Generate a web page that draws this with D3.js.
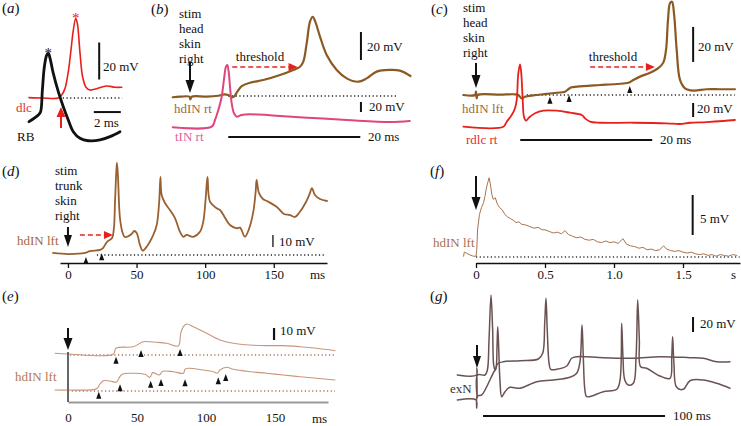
<!DOCTYPE html>
<html><head><meta charset="utf-8">
<script src="https://cdn.jsdelivr.net/npm/d3@7"></script>
<style>
body{margin:0;background:#fff}
svg text{font-family:"Liberation Serif","Times New Roman",serif;font-size:13px}
</style></head>
<body><svg id="c" width="741" height="426"></svg>
<script>
// ---------------- DATA ----------------
// (a) time ms, voltage mV
const aRB  = [[0,-12.8],[0.69,-9.2],[0.86,-7.4],[0.99,4.3],[1.14,17],[1.31,23.2],[1.43,24.2],[1.56,21.4],[1.8,13.3],[2.17,3.4],[2.54,-4.7],[2.91,-11.9],[3.28,-18.2],[3.78,-21.8],[4.39,-23.1],[5.26,-22.7],[6.0,-20.9],[6.74,-18.2]];
const aDlc = [[0,0.2],[1,0],[2.17,0],[2.42,1.6],[2.67,5.2],[2.91,14.2],[3.11,25.9],[3.28,36.6],[3.46,42.9],[3.58,40.3],[3.78,24.2],[3.97,11.5],[4.22,5.8],[4.52,4.3],[5.0,5],[5.74,6.5],[6.37,5.8],[6.87,5.8]];
// (b)
const bHdIN = [[-2.62,-0.9],[-1.52,-0.5],[-0.1,-0.5],[0.05,-2.4],[0.26,-0.5],[2.53,-0.5],[4.29,0.2],[5.2,1.2],[5.8,0.7],[6.32,-0.9],[6.67,-0.5],[7.17,3.1],[7.83,7.1],[9.09,9.5],[11.1,11.4],[13.64,15],[15.65,18.6],[16.67,20.9],[17.17,24.5],[17.68,37.6],[18.18,53.1],[18.59,56.6],[18.98,53.1],[19.7,42.4],[20.71,29.3],[22.23,18.6],[23.74,12.6],[25.5,10.2],[26.77,12.6],[28.29,17.4],[30.3,18.6],[31.8,18.1],[33.4,14.3]];
const bTIN = [[-2.62,-0.6],[3.29,0.6],[3.79,14],[4.29,34],[4.8,60.6],[5.2,100.6],[5.45,120.6],[5.65,124],[5.86,110.6],[6.06,80.6],[6.32,47.4],[6.67,27.4],[7.08,20.6],[7.83,24],[9.09,25.4],[13.64,22],[18.64,18],[23.79,14],[30.3,10],[33.3,12]];
// (c)
const cHdIN = [[-1.92,0],[-0.15,0],[0,1.9],[0.1,-1.9],[0.26,0],[3.64,0.2],[5.91,0.4],[6.41,0],[6.92,-1.9],[7.42,-1],[8.68,-0.2],[10.71,0.6],[12.23,1.3],[13.48,1.9],[13.98,3.3],[14.5,4.4],[16.26,5.1],[18.79,5.7],[21.32,6.3],[23.08,7],[23.83,8.6],[24.85,10.5],[26.36,12.7],[27.62,15.3],[28.38,18.5],[28.79,25.7],[29.09,42.9],[29.39,52.4],[29.7,53.3],[30,46.7],[30.41,25.7],[30.91,8.6],[31.67,3.8],[32.92,2.5],[34.95,3.3],[36.97,3.3],[39.24,3.3]];
const cRdlc = [[-1.92,0.4],[4.14,0.4],[4.65,7.6],[5.41,17.1],[5.91,26.7],[6.17,38.6],[6.41,76.7],[6.67,89.6],[6.86,76.7],[7.08,38.6],[7.27,14.7],[7.58,9],[8.08,13.9],[8.94,19.6],[10.2,23.3],[12.23,23.3],[14.24,20.4],[16.02,17.1],[16.52,12.4],[17.27,7.6],[18.79,6.1],[23.83,6.1],[28.89,5.3],[30.91,4.3],[32.42,6.1],[34.95,7.1],[37.47,8.6],[39.24,10]];
const cMarks = [[11.2,-1],[14.1,0],[23.3,5.1]];
// (d)
const dHdIN = [[-10.9,1.7],[0,0.8],[12.4,1.7],[16,3.3],[23.3,4.2],[25.5,5.8],[28.4,10.8],[32.1,14.2],[33.5,22.5],[34.3,44.2],[35.3,70.8],[35.7,76.7],[36.4,66.7],[37.9,30.8],[39.9,18.3],[41.5,15],[46.4,17.5],[48.3,20],[50.1,18.3],[52.5,8.3],[54.4,3.6],[57.4,6.9],[62.2,16.7],[64.7,25],[66.5,44.4],[67.4,65],[68.3,50],[70.7,43.3],[74.3,37.5],[78,30.8],[81.6,19.4],[84,15.2],[86.5,16.7],[91.3,15.2],[96.2,19.4],[98.6,27.7],[100.4,47.5],[101.7,65],[103.5,44.4],[108.4,38.9],[110.8,37.5],[118.1,25],[123,22.2],[125.4,22.8],[129,15.2],[132.1,22.2],[135.1,36.1],[136.8,52.8],[137.5,62.5],[139.2,51.7],[142.1,46.7],[145,45],[152.3,40],[157.4,34.2],[161.8,33.3],[165.5,31.7],[168.4,35],[173.5,44.2],[176.4,51.7],[177.8,55.8],[180,50],[183.7,46.7],[188.8,45]];
const dMarks = [[13.1,-1.7],[24.6,1.4]];
const dTicks = [0,50,100,150];
// (e)
const eUpper = [[-9.4,1.4],[0,0.8],[32.8,0.6],[34.8,5.6],[47.3,6.9],[52.2,9.8],[54.6,11.1],[64.3,10.6],[71.5,9.8],[79.9,7.5],[81.7,18.1],[83.6,23.6],[86,25.8],[90.8,23.6],[100.5,18.1],[110.1,12.5],[119.8,9.8],[131.9,8.3],[144,7.8],[156,7.8],[168.1,6.9],[180.2,5.6],[193.5,3.6]];
const eLower = [[-9.4,0.8],[0.2,0.8],[20.8,1.9],[22.7,5],[25.6,8.6],[30.4,8.3],[35.3,7.5],[37.2,11.4],[39.6,14.2],[47.3,14.8],[55.8,13.9],[59.4,11.4],[61.4,15.3],[66.2,13.3],[68.6,16.4],[76.3,16.1],[83.6,14.8],[84.8,18.1],[87.2,18.9],[98,17.5],[105.3,16.1],[108.2,14.8],[110.1,17.5],[115,19.8],[119.8,18.1],[131.9,16.1],[144,14.8],[156,13.3],[168.1,11.9],[180.2,10.6],[193.5,9.2]];
const eUpperMarks = [[34.8,-1.4],[52.9,4.2],[81.2,5]];
const eLowerMarks = [[22.3,-0.6],[37.7,5.6],[59.9,8.6],[67.4,10],[84.8,9.7],[108.9,11.4],[114.3,14.2]];
const eTicks = [0,50,100,150];
// (f) time s, voltage mV
const fHdIN = [[-0.09,0.1],[-0.085,0.6],[-0.07,0.5],[-0.05,0.3],[-0.02,0.1],[0,0.1],[0.005,0.8],[0.012,3.5],[0.025,5.3],[0.04,6.2],[0.055,6.8],[0.065,7.6],[0.075,8.6],[0.085,9.3],[0.095,9.9],[0.105,9.0],[0.115,7.8],[0.125,7.2],[0.14,7.4],[0.155,6.6],[0.17,6.2],[0.19,5.9],[0.21,5.3],[0.23,5.0],[0.25,4.8],[0.27,4.6],[0.29,4.3],[0.31,4.4],[0.33,4.1],[0.36,4.0],[0.39,3.8],[0.42,3.6],[0.45,3.7],[0.48,3.4],[0.5,3.4],[0.53,3.2],[0.56,3.0],[0.59,3.1],[0.62,2.9],[0.645,3.3],[0.67,2.8],[0.7,2.6],[0.73,2.4],[0.76,2.5],[0.79,2.2],[0.82,2.1],[0.85,2.2],[0.88,1.9],[0.91,1.8],[0.94,2.0],[0.97,1.8],[1.0,1.9],[1.03,1.7],[1.065,2.3],[1.09,1.6],[1.12,1.4],[1.15,1.3],[1.18,1.1],[1.21,1.2],[1.24,0.9],[1.27,1.0],[1.3,0.8],[1.33,0.9],[1.36,1.4],[1.38,1.0],[1.41,0.8],[1.44,0.7],[1.47,0.8],[1.5,0.6],[1.53,0.5],[1.56,0.6],[1.59,0.4],[1.62,0.3],[1.65,0.4],[1.68,0.2],[1.71,0.3],[1.74,0.1],[1.77,0.3],[1.8,0.2],[1.83,0.1],[1.86,0.3],[1.89,0.2]];
const fTicks = [0,0.5,1.0,1.5];
// (g) time ms, voltage mV
const gUpper = [[-10.8,0],[-0.3,0],[-0.1,9.3],[0.1,-30],[0.3,0],[4.4,0],[5.7,6.7],[6.6,46.7],[7.7,106.7],[8.6,60],[9.3,11.1],[10.1,6.7],[11.2,14.7],[14.5,17.7],[23.6,19.1],[33.7,21.3],[36.1,28.9],[37.2,68.9],[37.9,102.3],[38.6,60],[39.6,15.6],[40.5,7.6],[43.8,7.6],[49.3,12],[52,22.3],[54.8,24.4],[69.4,23.1],[85.9,22.3],[100.5,24.4],[117,23.1],[124.3,22.3],[131.7,17.7],[139,17.7]];
const gLower = [[-10.8,0],[-0.5,0],[-0.2,-10.7],[0.2,5.3],[2.6,6.7],[4.4,13.3],[7.1,26.7],[9.3,37.7],[10.4,42.3],[11,71.1],[11.4,97.7],[11.9,71.1],[12.6,26.7],[13.6,4.4],[15.4,11.1],[18.1,16.9],[23.6,15.6],[32.8,24.4],[41.9,26.7],[51.1,30.3],[54.8,35.6],[56.6,51.1],[57.7,100],[58.4,57.7],[59.3,13.3],[60.3,4.4],[69.4,11.1],[76.8,14.3],[78.6,26.7],[79.5,102.3],[80.2,57.7],[81.2,26.7],[83.1,20],[85.9,22.3],[87.4,57.7],[88.3,133.3],[89.2,80],[89.9,44.4],[93.2,42.3],[100.5,32],[106,28.9],[107,57.7],[107.5,84.4],[108.2,48.9],[109.7,16.9],[113.4,14.3],[117,25.7],[124.3,26.7],[131.7,22.3],[139,15.6]];

// ---------------- SCALES ----------------
const xa = d3.scaleLinear().domain([0,7]).range([29,123.5]);
const ya = d3.scaleLinear().domain([0,20]).range([98,61]);
const xb = d3.scaleLinear().domain([0,20]).range([190,322]);
const yb = d3.scaleLinear().domain([0,20]).range([96,68]);
const ybt = d3.scaleLinear().domain([0,20]).range([127,117]);
const xc = d3.scaleLinear().domain([0,20]).range([476,608]);
const yc = d3.scaleLinear().domain([0,20]).range([95,60]);
const ycr = d3.scaleLinear().domain([0,20]).range([127,113]);
const xd = d3.scaleLinear().domain([-5.8,188.8]).range([60,327]);
const yd = d3.scaleLinear().domain([0,10]).range([255,243]);
const xe = d3.scaleLinear().domain([0,188.4]).range([68,328]);
const yeU = d3.scaleLinear().domain([0,10]).range([355,343]);
const yeL = d3.scaleLinear().domain([0,10]).range([391,379]);
const xf = d3.scaleLinear().domain([0,1.913]).range([476,740]);
const yf = d3.scaleLinear().domain([0,5]).range([257,217]);
const xg = d3.scaleLinear().domain([0,100]).range([477,659]);
const ygU = d3.scaleLinear().domain([0,20]).range([375,360]);
const ygL = d3.scaleLinear().domain([0,20]).range([400,385]);

// ---------------- HELPERS ----------------
const svg = d3.select("#c");
const smooth = d3.curveCatmullRom.alpha(0.5);
function trace(data, xs, ys, color, w, curve){
  svg.append("path").attr("d", d3.line().x(d=>xs(d[0])).y(d=>ys(d[1])).curve(curve||smooth)(data))
    .attr("fill","none").attr("stroke",color).attr("stroke-width",w)
    .attr("stroke-linejoin","round").attr("stroke-linecap","round");
}
function dotted(xs, ys, t0, t1, color){
  svg.append("line").attr("x1",xs(t0)).attr("x2",xs(t1)).attr("y1",ys(0)).attr("y2",ys(0))
    .attr("stroke",color||"#222").attr("stroke-width",1.3).attr("stroke-dasharray","1.2,2.5");
}
function seg(x1,y1,x2,y2,color,w){
  svg.append("line").attr("x1",x1).attr("y1",y1).attr("x2",x2).attr("y2",y2)
    .attr("stroke",color||"#111").attr("stroke-width",w||2);
}
function txt(x,y,s,color,anchor,size){
  return svg.append("text").attr("x",x).attr("y",y).attr("fill",color||"#111")
    .attr("text-anchor",anchor||"start").style("font-size",(size||13)+"px").text(s);
}
function panelLabel(x,y,l){
  const t = svg.append("text").attr("x",x).attr("y",y).attr("fill","#111").style("font-size","15px");
  t.append("tspan").text("(");
  t.append("tspan").style("font-style","italic").text(l);
  t.append("tspan").text(")");
}
function downArrow(x,y0,y1,color,hl,hw){
  seg(x,y0,x,y1-hl+1,color,2);
  svg.append("path").attr("d",`M${x-hw/2},${y1-hl}L${x+hw/2},${y1-hl}L${x},${y1}Z`).attr("fill",color);
}
function upArrow(x,y0,y1,color,hl,hw){
  seg(x,y0,x,y1+hl-1,color,2);
  svg.append("path").attr("d",`M${x-hw/2},${y1+hl}L${x+hw/2},${y1+hl}L${x},${y1}Z`).attr("fill",color);
}
function dashArrow(x0,x1,y){
  svg.append("line").attr("x1",x0).attr("x2",x1-8).attr("y1",y).attr("y2",y)
    .attr("stroke","#e8201c").attr("stroke-width",1.4).attr("stroke-dasharray","5,3");
  svg.append("path").attr("d",`M${x1-9},${y-4}L${x1-9},${y+4}L${x1},${y}Z`).attr("fill","#e8201c");
}
function marks(data,xs,ys){
  data.forEach(d=>{
    const x=xs(d[0]), y=ys(d[1]);
    svg.append("path").attr("d",`M${x},${y}L${x+2.6},${y+7}L${x-2.6},${y+7}Z`).attr("fill","#111");
  });
}
function stack(x,y0,lines,step){ lines.forEach((s,i)=>txt(x,y0+i*step,s)); }

// ---------------- PANEL A ----------------
panelLabel(2,13,"a");
trace(aDlc, xa, ya, "#e8201c", 1.6);
dotted(xa, ya, 2.5, 6.9);
trace(aRB, xa, ya, "#111", 2.8);
txt(xa(1.42), ya(24.2)+5, "*", "#222", "middle", 15);
txt(xa(3.47), ya(43)+5, "*", "#e8201c", "middle", 15);
upArrow(xa(2.37), 128, 107, "#e8201c", 10, 9);
seg(xa(5.2), ya(10), xa(5.2), ya(30));
txt(103,71,"20 mV");
seg(xa(4.8), ya(-7.6), xa(6.8), ya(-7.6));
txt(94,127,"2 ms");
txt(16,112,"dlc","#e03030");
txt(17,141,"RB");

// ---------------- PANEL B ----------------
panelLabel(151,14,"b");
stack(179,17.5,["stim","head","skin","right"],15);
downArrow(xb(0), 63, 93, "#111", 13, 9);
dotted(xb, yb, 5.8, 31.5);
trace(bHdIN, xb, yb, "#8a5a22", 2.2);
trace(bTIN, xb, ybt, "#e0457e", 2);
txt(260,61,"threshold","#111","middle");
dashArrow(xb(6.4), xb(16.3), 67);
seg(xb(25.9), yb(25.7), xb(25.9), yb(45.7));
txt(367,51,"20 mV");
seg(xb(25.9), ybt(30), xb(25.9), ybt(50));
txt(369,111,"20 mV");
seg(xb(5.8), ybt(-20), xb(25.8), ybt(-20));
txt(368,141,"20 ms");
txt(174,113,"hdIN rt","#a3683a");
txt(175,141,"tIN rt","#e0609a");

// ---------------- PANEL C ----------------
panelLabel(431,14,"c");
stack(463,11.5,["stim","head","skin","right"],15);
downArrow(xc(0), 63, 88, "#111", 13, 9);
dotted(xc, yc, 7.7, 39.2);
trace(cHdIN, xc, yc, "#8a5a22", 2.2);
trace(cRdlc, xc, ycr, "#e8201c", 1.8);
marks(cMarks, xc, yc);
txt(613,61,"threshold","#111","middle");
dashArrow(xc(17.3), xc(27.1), 67);
seg(xc(32.9), yc(18.9), xc(32.9), yc(38.9));
txt(698,51,"20 mV");
seg(xc(32.9), ycr(14.3), xc(32.9), ycr(34.3));
txt(697,113,"20 mV");
seg(xc(6.7), ycr(-18.6), xc(26.7), ycr(-18.6));
txt(660,144,"20 ms");
txt(462,113,"hdIN lft","#a3683a");
txt(466,144,"rdlc rt","#e03030");

// ---------------- PANEL D ----------------
panelLabel(2,176,"d");
stack(55,175,["stim","trunk","skin","right"],15);
downArrow(xd(0), 227, 247, "#111", 12, 8);
dotted(xd, yd, 21.1, 187.3);
trace(dHdIN, xd, yd, "#9a6030", 1.8);
marks(dMarks, xd, yd);
dashArrow(xd(8.7), xd(32.8), yd(16.7));
seg(xd(149.4), yd(6.7), xd(149.4), yd(16.7), "#111", 1.3);
txt(279,246,"10 mV");
txt(17,245,"hdIN lft","#a3683a");
const axD = svg.append("g").attr("transform","translate(0,263)")
  .call(d3.axisBottom(xd).tickValues(dTicks).tickSize(5).tickSizeOuter(0).tickPadding(2));
axD.select(".domain").attr("stroke","#111").attr("stroke-width",1.3);
axD.selectAll(".tick line").attr("stroke","#111").attr("stroke-width",1.3);
axD.selectAll("text").style("font-family","Liberation Serif").style("font-size","13px").attr("fill","#111");
txt(310,279,"ms");

// ---------------- PANEL E ----------------
panelLabel(2,301,"e");
downArrow(xe(0), 328, 350, "#111", 12, 9);
dotted(xe, yeU, 1.4, 193.5, "#b0705a");
dotted(xe, yeL, 0, 193.5, "#b0705a");
trace(eUpper, xe, yeU, "#c8957a", 1.1);
trace(eLower, xe, yeL, "#c8957a", 1.1);
marks(eUpperMarks, xe, yeU);
marks(eLowerMarks, xe, yeL);
seg(xe(149.3), yeU(12.5), xe(149.3), yeU(22.5), "#111", 2.2);
txt(280,335,"10 mV");
txt(15,381,"hdIN lft","#b07a55");
const axE = svg.append("g").attr("transform","translate(0,402)")
  .call(d3.axisBottom(xe).tickValues(eTicks).tickSize(0).tickSizeOuter(0).tickPadding(11));
axE.select(".domain").attr("stroke","#999").attr("stroke-width",2);
axE.selectAll("text").style("font-family","Liberation Serif").style("font-size","13px").attr("fill","#111");
seg(xe(0), 352, xe(0), 402, "#666", 2);
txt(312,422.5,"ms");

// ---------------- PANEL F ----------------
panelLabel(430,176,"f");
downArrow(xf(0), 176, 210, "#111", 13, 9);
dotted(xf, yf, 0, 1.91, "#333");
trace(fHdIN, xf, yf, "#a87450", 1, d3.curveLinear);
seg(xf(1.57), yf(2.75), xf(1.57), yf(7.75));
txt(700,222.5,"5 mV");
txt(433,246.5,"hdIN lft","#a87050");
const axF = svg.append("g").attr("transform","translate(0,263)")
  .call(d3.axisBottom(xf).tickValues(fTicks).tickFormat(d=>d===0?"0":d.toFixed(1)).tickSize(5).tickSizeOuter(0).tickPadding(2));
axF.select(".domain").attr("stroke","#111").attr("stroke-width",1.3);
axF.selectAll(".tick line").attr("stroke","#111").attr("stroke-width",1.3);
axF.selectAll("text").style("font-family","Liberation Serif").style("font-size","13px").attr("fill","#111");
txt(731,279,"s");

// ---------------- PANEL G ----------------
panelLabel(430,301,"g");
trace(gUpper, xg, ygU, "#6b5252", 1.5);
trace(gLower, xg, ygL, "#6b5252", 1.5);
downArrow(xg(0), 345, 368, "#111", 12, 8);
seg(xg(118.7), ygU(57.3), xg(118.7), ygU(77.3));
txt(700,327.5,"20 mV");
seg(xg(3.3), ygL(-21.3), xg(103.3), ygL(-21.3));
txt(673,420,"100 ms");
txt(450,392.5,"exN","#3a3030");
</script>
</body></html>
